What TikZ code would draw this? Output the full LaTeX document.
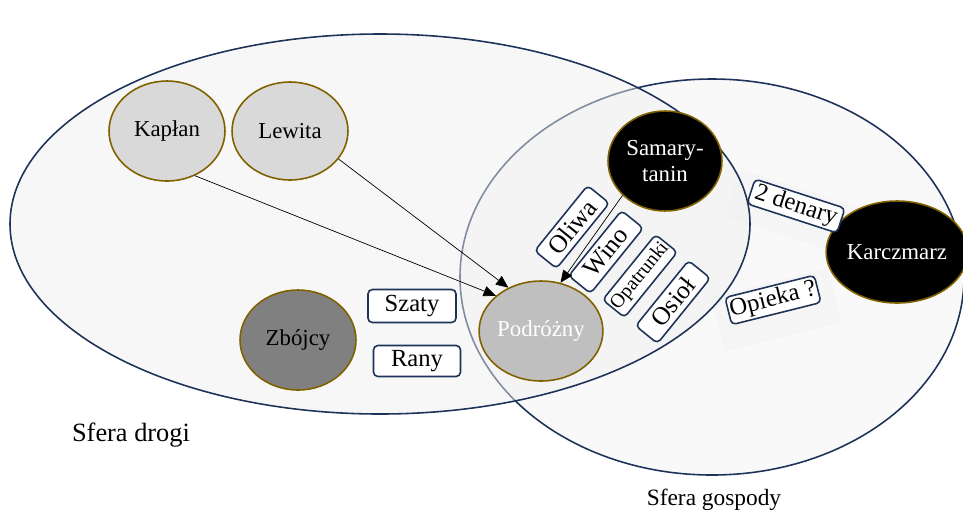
\documentclass[tikz,border=0pt]{standalone}
\usepackage{fontspec}
\setmainfont{Liberation Serif}
\usetikzlibrary{shapes.geometric,arrows.meta}
\definecolor{granat}{rgb}{0.12, 0.20, 0.35}
\definecolor{braz}{rgb}{0.50, 0.38, 0.00}
\definecolor{jasny}{rgb}{0.85, 0.85, 0.85}
\definecolor{sredni}{rgb}{0.75, 0.75, 0.75}
\definecolor{ciemny}{rgb}{0.50, 0.50, 0.50}
\definecolor{tlo}{rgb}{0.975, 0.975, 0.975}
\definecolor{mgla}{rgb}{0.937, 0.937, 0.937}
\definecolor{cien}{rgb}{0.962, 0.962, 0.962}

\begin{document}
\begin{tikzpicture}[x=0.02cm,y=-0.02cm,
		osoba/.style={ellipse,draw=braz,line width=0.9pt,minimum width=2.32cm,minimum height=2cm,inner sep=0pt,font=\fontsize{13}{15}\selectfont,align=center},
		dar/.style={draw=granat,line width=0.9pt,rounded corners=2.5pt,fill=white,minimum height=0.56cm,inner sep=1pt,font=\fontsize{14}{16}\selectfont},
		skos/.style={dar,rotate=51,minimum width=1.68cm,font=\fontsize{14.5}{16}\selectfont},
		strzala/.style={-{Triangle[length=7pt,width=6pt]},thin}]
				\useasboundingbox (0,0) rectangle (963,515);
				% sfery
				\draw[draw=granat,line width=0.9pt,fill=tlo] (712,277) ellipse (252 and 198);
				% cienie pod napisami
				\fill[cien,rotate around={-18:(792,212)}] (730,187) rectangle (854,237);
				\fill[cien,rotate around={14:(776,310)}] (716,282) rectangle (836,338);
				\draw[draw=granat,line width=0.9pt,fill=mgla,fill opacity=0.475] (380,224) ellipse (370 and 190);
				\node (drogi) at (131,435) {\fontsize{15}{17}\selectfont Sfera drogi};
				\node (gospody) at (714,500) {\fontsize{13.3}{16}\selectfont Sfera gospody};
				% osoby
				\node[osoba,fill=jasny] (kaplan) at (167,131) {Kapłan};
				\node[osoba,fill=jasny,minimum height=1.96cm] (lewita) at (290,131) {Lewita};
				\node[osoba,fill=ciemny] (zbojcy) at (298,340) {Zbójcy};
				\node[osoba,fill=sredni,text=white] (podrozny) at (541,331) {Podróżny};
				\node[osoba,fill=black,text=white,minimum width=2.28cm] (samarytanin) at (665,161) {Samary-\\tanin};
				\node[osoba,fill=black,text=white,minimum height=2.04cm] (karczmarz) at (897,252) {Karczmarz};
				% dary
				\node[dar,minimum width=1.76cm,minimum height=0.66cm] (szaty) at (412,306) {Szaty};
				\node[dar,minimum width=1.74cm,minimum height=0.62cm] (rany) at (417,361) {Rany};
				\node[skos] (oliwa) at (572,227) {Oliwa};
				\node[skos] (wino) at (606,252) {Wino};
				\node[skos,font=\fontsize{11.3}{13}\selectfont] (opatrunki) at (640,276) {Opatrunki};
				\node[skos] (osiol) at (673,302) {Osioł};
				\node[dar,rotate=-18,minimum width=1.89cm,minimum height=0.52cm] (denary) at (796,206) {2 denary};
				\node[dar,rotate=14,minimum width=1.84cm,minimum height=0.56cm] (opieka) at (773,300) {Opieka ?};
				% przejscia
				\draw[strzala] (kaplan.-58) -- (podrozny.142);
				\draw[strzala] (lewita.-30) -- (podrozny.127);
				\draw[strzala] (samarytanin.219) -- (podrozny.68);
			\end{tikzpicture}
\end{document}
